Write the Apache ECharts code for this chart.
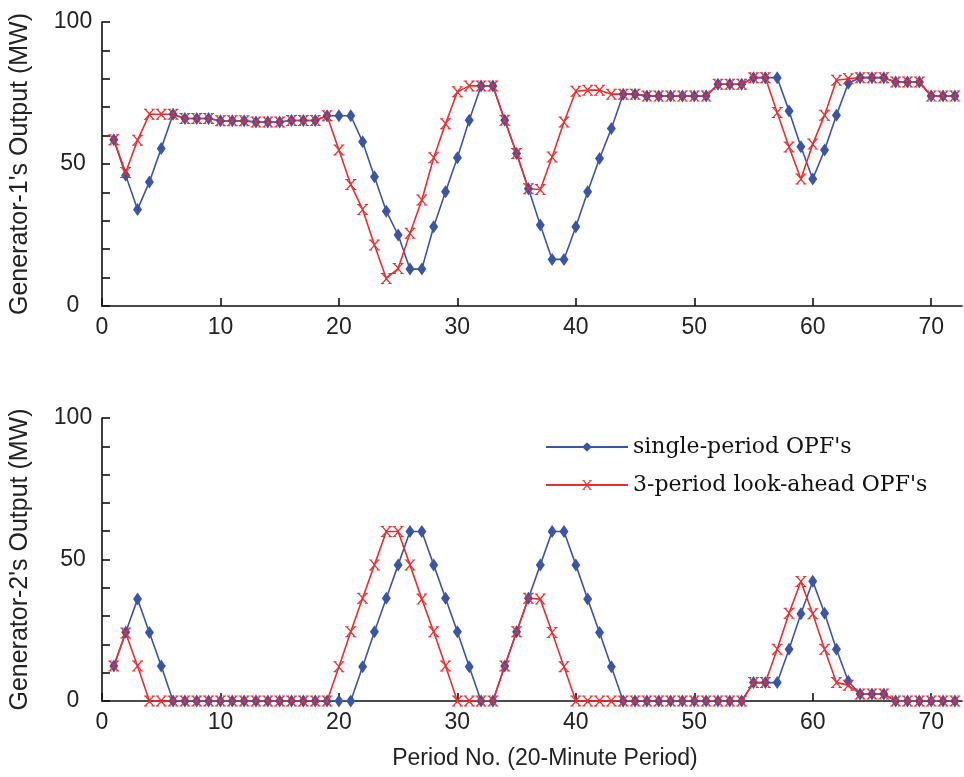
<!DOCTYPE html>
<html>
<head>
<meta charset="utf-8">
<script src="https://cdn.jsdelivr.net/npm/echarts@6/dist/echarts.min.js"></script>
<style>
html,body{margin:0;padding:0;background:#fff;}
#c{width:964px;height:777px;}
</style>
</head>
<body>
<div id="c"></div>
<script>
// Period numbers 1..72
var periods = [1,2,3,4,5,6,7,8,9,10,11,12,13,14,15,16,17,18,19,20,21,22,23,24,25,26,27,28,29,30,31,32,33,34,35,36,37,38,39,40,41,42,43,44,45,46,47,48,49,50,51,52,53,54,55,56,57,58,59,60,61,62,63,64,65,66,67,68,69,70,71,72];

var g1Single = [58.5,46,34,43.7,55.5,67.5,66,66,66,65.2,65.2,65.2,64.8,64.8,64.8,65.3,65.3,65.3,67,67,67,57.8,45.5,33.4,25,13,13,27.9,40.2,52.2,65.4,77.5,77.5,65.4,53.7,41.3,28.5,16.4,16.4,27.9,40.2,51.9,62.5,74.6,74.6,73.9,73.9,73.9,73.9,73.9,73.9,78.1,78.1,78.1,80.4,80.4,80.4,68.7,56.1,44.7,54.9,67.2,78.4,80.4,80.4,80.4,78.9,78.9,78.9,73.9,73.9,73.9];
var g1Ahead = [58.5,47,58.4,67.5,67.5,67.5,66,66,66,65.2,65.2,65.2,64.8,64.8,64.8,65.3,65.3,65.3,67,54.9,42.8,34,21.5,9.7,13.2,25.6,37.3,52.2,64.2,75.4,77.5,77.5,77.5,65.4,53.7,41.3,41,52.5,64.8,75.6,76,76,74.6,74.6,74.6,73.9,73.9,73.9,73.9,73.9,73.9,78.1,78.1,78.1,80.4,80.4,68.1,56,44.7,57,67.2,79.5,80,80.4,80.4,80.4,78.9,78.9,78.9,73.9,73.9,73.9];
var g2Single = [12.4,24.3,36,24.2,12.4,0,0,0,0,0,0,0,0,0,0,0,0,0,0,0,0,12.1,24.5,36.3,48.1,59.9,59.9,48.1,36.3,24.5,12.1,0,0,12.4,24.5,36.3,48.1,59.9,59.9,48.1,36,24.2,12.1,0,0,0,0,0,0,0,0,0,0,0,6.5,6.5,6.5,18.3,30.8,42.3,31,18.3,7,2.5,2.5,2.5,0,0,0,0,0,0];
var g2Ahead = [12.4,24,12.4,0,0,0,0,0,0,0,0,0,0,0,0,0,0,0,0,12.1,24.5,36.3,48.1,59.9,59.9,48.1,36,24.5,12.4,0,0,0,0,12.4,24.5,36.3,36,24.2,12.1,0,0,0,0,0,0,0,0,0,0,0,0,0,0,0,6.5,6.5,18.3,31,42.2,30.8,18.3,6.5,5.6,2.5,2.5,2.5,0,0,0,0,0,0];

var xTicks = [0,10,20,30,40,50,60,70];
var yTicks = [0,10,20,30,40,50,60,70,80,90,100];
var yLabels = [0,50,100];
var seriesNames = ["single-period OPF's", "3-period look-ahead OPF's"];
var yNames = ["Generator-1's Output (MW)", "Generator-2's Output (MW)"];
var xName = "Period No. (20-Minute Period)";

function pairs(vals){ return vals.map(function(v,i){ return [periods[i], v]; }); }

var BLUE = '#3b55a6', RED = '#ee2b2e';
var xSym = 'path://M0,0 L3,0 L3,0.9 L2.2,0.9 L5,3.7 L7.8,0.9 L7,0.9 L7,0 L10,0 L10,0.9 L9.2,0.9 L5.9,4.6 L5.9,5.4 L9.2,9.1 L10,9.1 L10,10 L7,10 L7,9.1 L7.8,9.1 L5,6.3 L2.2,9.1 L3,9.1 L3,10 L0,10 L0,9.1 L0.8,9.1 L4.1,5.4 L4.1,4.6 L0.8,0.9 L0,0.9 Z';

var axisTxt = {fontFamily:'Liberation Sans', fontSize:23, color:'#222'};

function mkX(idx, showName){
  return {
    type:'value', gridIndex:idx, min:0, max:72.6, interval:10,
    axisLine:{show:true, onZero:false, lineStyle:{color:'#111', width:1.6}},
    axisTick:{show:true, inside:true, length:8, customValues:xTicks, lineStyle:{color:'#111', width:1.6}},
    axisLabel:Object.assign({margin:10, customValues:xTicks}, axisTxt),
    splitLine:{show:false},
    name: showName ? xName : '',
    nameLocation:'middle', nameGap:46,
    nameTextStyle:Object.assign({padding:[0,0,0,26]}, axisTxt)
  };
}
function mkY(idx){
  return {
    type:'value', gridIndex:idx, min:0, max:100, interval:10,
    axisLine:{show:true, lineStyle:{color:'#111', width:1.6}},
    axisTick:{show:true, inside:true, length:8, customValues:yTicks, lineStyle:{color:'#111', width:1.6}},
    axisLabel:Object.assign({margin:29, align:'center', customValues:yLabels}, axisTxt),
    splitLine:{show:false},
    name:yNames[idx], nameLocation:'middle', nameGap:69,
    nameTextStyle:Object.assign({}, axisTxt, {fontSize:25})
  };
}
function mkS(name, data, idx, color, sym, size){
  return {
    name:name, type:'line', xAxisIndex:idx, yAxisIndex:idx, data:pairs(data),
    symbol:sym, symbolSize:size, showAllSymbol:true,
    lineStyle:{color:color, width:1.6}, itemStyle:{color:color},
    emphasis:{disabled:true}, animation:false
  };
}

var chart = echarts.init(document.getElementById('c'), null, {renderer:'canvas'});
chart.setOption({
  backgroundColor:'#fff',
  animation:false,
  grid:[
    {left:100.5, top:22, width:861.5, height:284},
    {left:100.5, top:418, width:861.5, height:283}
  ],
  xAxis:[mkX(0,false), mkX(1,true)],
  yAxis:[mkY(0), mkY(1)],
  legend:{
    orient:'vertical', left:545, top:434, padding:0, itemWidth:82, itemHeight:12, itemGap:12,
    textStyle:{fontFamily:'DejaVu Serif', fontSize:22, color:'#111', lineHeight:26},
    data:seriesNames
  },
  series:[
    mkS(seriesNames[0], g1Single, 0, BLUE, 'diamond', [9,13]),
    mkS(seriesNames[1], g1Ahead, 0, RED, xSym, 11),
    mkS(seriesNames[0], g2Single, 1, BLUE, 'diamond', [9,13]),
    mkS(seriesNames[1], g2Ahead, 1, RED, xSym, 11)
  ]
});
</script>
</body>
</html>
